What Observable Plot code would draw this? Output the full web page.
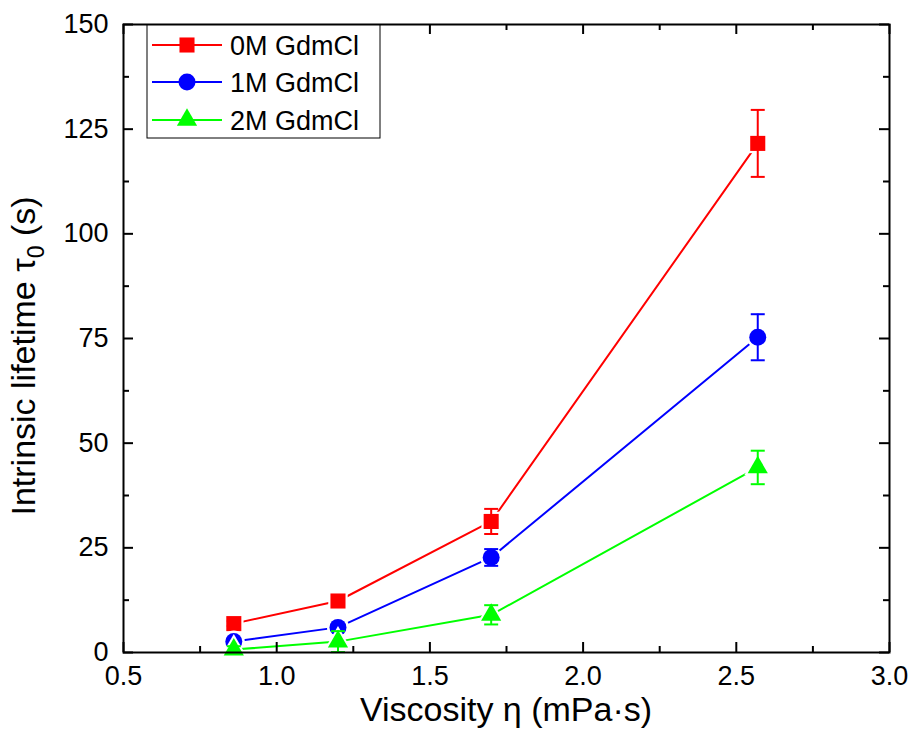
<!DOCTYPE html>
<html><head><meta charset="utf-8">
<script src="https://cdn.jsdelivr.net/npm/d3@7"></script>
<script src="https://cdn.jsdelivr.net/npm/@observablehq/plot@0.6"></script>
<style>body{margin:0;background:#fff;} svg{font-family:"Liberation Sans",Arial,sans-serif;}</style>
</head><body><div id="chart"></div>
<script>
const viscosity = [0.86, 1.20, 1.70, 2.57];
const seriesNames = ["0M GdmCl", "1M GdmCl", "2M GdmCl"];
const tau0M = [6.9, 12.3, 31.3, 121.6];
const err0M = [0.6, 0.8, 3.0, 8.0];
const tau1M = [2.6, 6.0, 22.7, 75.3];
const err1M = [0.5, 0.6, 2.0, 5.5];
const tau2M = [0.7, 2.6, 9.0, 44.2];
const err2M = [0.8, 2.5, 2.3, 4.0];
const colors = ["#ff0000", "#0000ff", "#00ff00"];
const symbolNames = ["square", "circle", "triangle"];
const xTicks = [0.5, 1.0, 1.5, 2.0, 2.5, 3.0];
const xMinor = [0.75, 1.25, 1.75, 2.25, 2.75];
const yTicks = [0, 25, 50, 75, 100, 125, 150];
const yMinor = [12.5, 37.5, 62.5, 87.5, 112.5, 137.5];

const taus = [tau0M, tau1M, tau2M];
const errs = [err0M, err1M, err2M];
const rs = [8.5, 8.5, 7.5];
const data = [];
seriesNames.forEach((s, i) => viscosity.forEach((v, j) => data.push({series: s, si: i, x: v, y: taus[i][j], e: errs[i][j]})));

const cap = {draw(ctx, size) { const w = 7; ctx.moveTo(-w, 0); ctx.lineTo(w, 0); }};

const W = 911, H = 750, mt = 24, mb = 98, ml = 123, mr = 22;
const fw = W - ml - mr, fh = H - mt - mb;

const marks = [];
seriesNames.forEach((s, i) => {
  const d = data.filter(p => p.si === i);
  marks.push(
    Plot.line(d, {x: "x", y: "y", stroke: colors[i], strokeWidth: 2}),
    Plot.dot(d, {x: "x", y: "y", symbol: symbolNames[i], r: rs[i] + 2.5, fill: "white"}),
    Plot.ruleX(d, {x: "x", y1: p => p.y - p.e, y2: p => p.y + p.e, stroke: colors[i], strokeWidth: 2}),
    Plot.dot(d, {x: "x", y: p => p.y + p.e, symbol: cap, stroke: colors[i], strokeWidth: 2, r: 4}),
    Plot.dot(d, {x: "x", y: p => p.y - p.e, symbol: cap, stroke: colors[i], strokeWidth: 2, r: 4}),
    Plot.dot(d, {x: "x", y: "y", symbol: symbolNames[i], r: rs[i], fill: colors[i]})
  );
});

const chart = Plot.plot({
  width: W, height: H,
  marginTop: mt, marginBottom: mb, marginLeft: ml, marginRight: mr,
  style: {fontFamily: "'Liberation Sans', Arial, sans-serif", background: "white", color: "black"},
  x: {domain: [0.5, 3.0], axis: null},
  y: {domain: [0, 150], axis: null},
  marks: [
    ...marks,
    Plot.frame({stroke: "black", strokeWidth: 2}),
    Plot.tickX(xTicks, {x: d => d, insetTop: fh - 10, stroke: "black", strokeWidth: 2}),
    Plot.tickX(xMinor, {x: d => d, insetTop: fh - 6, stroke: "black", strokeWidth: 2}),
    Plot.tickX(xTicks, {x: d => d, insetBottom: fh - 10, stroke: "black", strokeWidth: 2}),
    Plot.tickX(xMinor, {x: d => d, insetBottom: fh - 6, stroke: "black", strokeWidth: 2}),
    Plot.tickY(yTicks, {y: d => d, insetRight: fw - 10, stroke: "black", strokeWidth: 2}),
    Plot.tickY(yMinor, {y: d => d, insetRight: fw - 6, stroke: "black", strokeWidth: 2}),
    Plot.tickY(yTicks, {y: d => d, insetLeft: fw - 10, stroke: "black", strokeWidth: 2}),
    Plot.tickY(yMinor, {y: d => d, insetLeft: fw - 6, stroke: "black", strokeWidth: 2}),
    Plot.axisX(xTicks, {tickSize: 0, tickPadding: 13, tickFormat: d3.format(".1f"), fontSize: 27, label: null}),
    Plot.axisY(yTicks, {tickSize: 0, tickPadding: 15, tickFormat: d => String(d), fontSize: 27, label: null})
  ]
});
document.getElementById("chart").appendChild(chart);

const svg = d3.select(chart);
// x label
svg.append("text").attr("x", ml + fw / 2).attr("y", 721).attr("text-anchor", "middle")
  .attr("font-size", 34).attr("fill", "black").text("Viscosity η (mPa·s)");
// y label with subscript
const yl = svg.append("text").attr("transform", `translate(35, 356) rotate(-90)`)
  .attr("text-anchor", "middle").attr("font-size", 34).attr("fill", "black");
yl.append("tspan").text("Intrinsic lifetime τ");
yl.append("tspan").attr("font-size", 23).attr("dy", 9).text("0");
yl.append("tspan").attr("dy", -9).text(" (s)");

// legend
const lg = svg.append("g");
lg.append("rect").attr("x", 147).attr("y", 25).attr("width", 233).attr("height", 113)
  .attr("fill", "white").attr("stroke", "black").attr("stroke-width", 1);
const rowY = [45, 82, 120];
const d3sym = [d3.symbolSquare, d3.symbolCircle, d3.symbolTriangle];
seriesNames.forEach((s, i) => {
  lg.append("line").attr("x1", 152).attr("x2", 222).attr("y1", rowY[i]).attr("y2", rowY[i])
    .attr("stroke", colors[i]).attr("stroke-width", 2);
  lg.append("path").attr("d", d3.symbol(d3sym[i], Math.PI * rs[i] * rs[i])())
    .attr("transform", `translate(187,${rowY[i]})`).attr("fill", colors[i]);
  lg.append("text").attr("x", 230).attr("y", rowY[i]).attr("dy", "0.36em").attr("text-anchor", "start")
    .attr("font-size", 27).attr("fill", "black").text(s);
});
</script></body></html>
